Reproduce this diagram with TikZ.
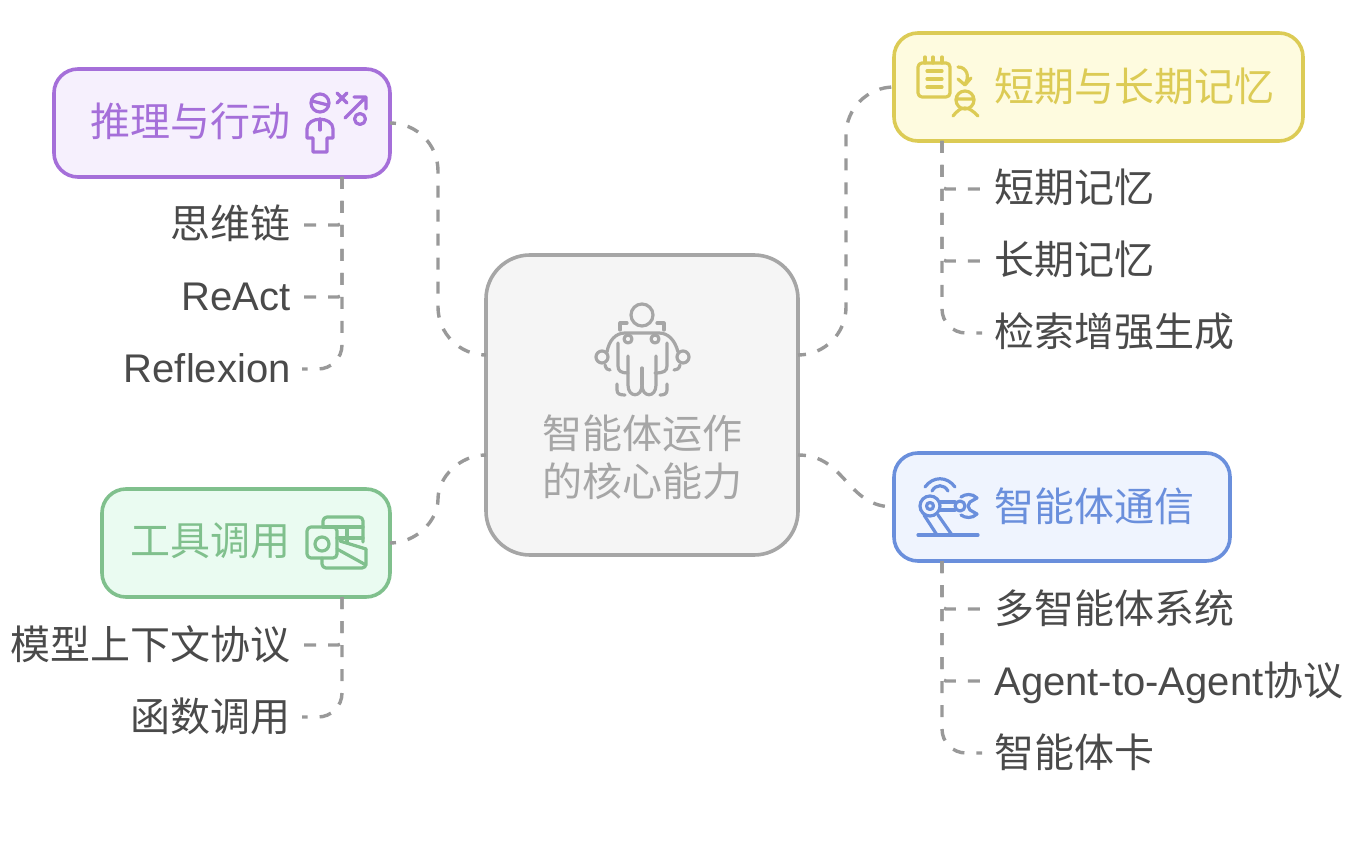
\documentclass[tikz,border=0pt]{standalone}
\usepackage{fontspec}
\usepackage{xcolor}
\setmainfont{Noto Sans CJK SC}
\newfontfamily\latinfont{Liberation Sans}
\definecolor{hubline}{HTML}{A6A6A6}
\definecolor{hubfill}{HTML}{F5F5F5}
\definecolor{purpleline}{HTML}{A56FD9}
\definecolor{purplefill}{HTML}{F6F0FD}
\definecolor{yellowline}{HTML}{DCCB55}
\definecolor{yellowfill}{HTML}{FEFBDF}
\definecolor{blueline}{HTML}{6A8FDC}
\definecolor{bluefill}{HTML}{EFF4FE}
\definecolor{greenline}{HTML}{80C08D}
\definecolor{greenfill}{HTML}{EAFBF1}
\definecolor{linkgrey}{HTML}{999999}
\definecolor{leafgrey}{HTML}{4A4A4A}
\tikzset{
    box/.style={draw,line width=1.8pt,rounded corners=12pt,inner sep=0pt,outer sep=0pt},
    title/.style={inner sep=0pt,font=\fontsize{20}{24}\selectfont},
    link/.style={draw=linkgrey,line width=1.7pt,dash pattern=on 6pt off 6pt},
    leafr/.style={anchor=west,inner sep=6pt,text height=17pt,text depth=3pt,text=leafgrey,font=\fontsize{20}{24}\selectfont},
    leafl/.style={anchor=east,inner sep=5.5pt,text height=17pt,text depth=3pt,text=leafgrey,font=\fontsize{20}{24}\selectfont},
    icon/.style={line width=1.6pt,line cap=round,line join=round},
}
\begin{document}
\begin{tikzpicture}[x=0.5pt,y=-0.5pt]
            \useasboundingbox (0,0) rectangle (1354,844);

            \node (hub) at (642,405) [box,draw=hubline,fill=hubfill,rounded corners=22pt,minimum width=156pt,minimum height=150pt] {};
            \node (reason) at (222,123) [box,draw=purpleline,fill=purplefill,minimum width=168pt,minimum height=54pt] {};
            \node (memory) at (1098.5,87) [box,draw=yellowline,fill=yellowfill,minimum width=204.5pt,minimum height=54pt] {};
            \node (comm) at (1062,507) [box,draw=blueline,fill=bluefill,minimum width=168pt,minimum height=54pt] {};
            \node (tools) at (246,543) [box,draw=greenline,fill=greenfill,minimum width=144pt,minimum height=54pt] {};

            \node (hubtext) at (642,457) [title,text=hubline,align=center] {智能体运作\\的核心能力};
            \node (reasontext) at (190,121) [title,text=purpleline] {推理与行动};
            \node (memorytext) at (1134,86) [title,text=yellowline] {短期与长期记忆};
            \node (commtext) at (1094,506) [title,text=blueline] {智能体通信};
            \node (toolstext) at (210,541) [title,text=greenline] {工具调用};

            \node (chain) at (302,225) [leafl] {思维链};
            \node (react) at (302,297) [leafl] {\latinfont ReAct};
            \node (reflexion) at (302,369) [leafl] {\latinfont Reflexion};
            \node (mcp) at (302,645) [leafl] {模型上下文协议};
            \node (func) at (302,717) [leafl] {函数调用};
            \node (short) at (982,189) [leafr] {短期记忆};
            \node (long) at (982,261) [leafr] {长期记忆};
            \node (rag) at (982,333) [leafr] {检索增强生成};
            \node (multi) at (982,609) [leafr] {多智能体系统};
            \node (atoa) at (982,681) [leafr] {{\latinfont Agent-to-Agent}协议};
            \node (card) at (982,753) [leafr] {智能体卡};

            \coordinate (hubnw) at (486,355);
            \coordinate (hubsw) at (486,455);
            \coordinate (hubne) at (798,355);
            \coordinate (hubse) at (798,455);
            \coordinate (reasonfoot) at (342,177);
            \coordinate (toolsfoot) at (342,597);
            \coordinate (memoryfoot) at (942,141);
            \coordinate (commfoot) at (942,561);

            \draw[link,dash phase=3pt,rounded corners=24pt] (reason.east) -| (438,239) |- (hubnw);
            \draw[link,dash phase=3pt] (tools.east) .. controls (416,543) and (438,521) .. (438,499) .. controls (438,477) and (460,455) .. (hubsw);
            \draw[link,dash phase=2pt,rounded corners=24pt] (hubne) -| (846,221) |- (memory.west);
            \draw[link,dash phase=2pt] (hubse) .. controls (846,455) and (846,507) .. (comm.west);

            \draw[link,rounded corners=2pt] (reasonfoot) |- (chain.east);
            \draw[link,rounded corners=2pt] (reasonfoot) |- (react.east);
            \draw[link,rounded corners=12pt] (reasonfoot) |- (reflexion.east);
            \draw[link,rounded corners=2pt] (toolsfoot) |- (mcp.east);
            \draw[link,rounded corners=12pt] (toolsfoot) |- (func.east);
            \draw[link,rounded corners=2pt] (memoryfoot) |- (short.west);
            \draw[link,rounded corners=2pt] (memoryfoot) |- (long.west);
            \draw[link,rounded corners=12pt] (memoryfoot) |- (rag.west);
            \draw[link,rounded corners=2pt] (commfoot) |- (multi.west);
            \draw[link,rounded corners=2pt] (commfoot) |- (atoa.west);
            \draw[link,rounded corners=12pt] (commfoot) |- (card.west);

            \begin{scope}[icon,draw=hubline]
                \draw (642,315) circle (11);
                \draw (620,330) -- (620,323) -- (627,323) (657,323) -- (664,323) -- (664,330);
                \draw (607,352) .. controls (609,340) and (616,333) .. (625,333) -- (659,333) .. controls (668,333) and (675,340) .. (678,352);
                \draw (602,357) circle (6) (683,357) circle (6);
                \draw (605,365) .. controls (606,369) and (608,370) .. (610,370) (680,365) .. controls (679,369) and (677,370) .. (674,370);
                \draw[fill=hubfill] (628,339) circle (4) (655,339) circle (4);
                \draw (618,343) -- (618,366) .. controls (618,371) and (621,373) .. (628,373);
                \draw (667,343) -- (667,366) .. controls (667,371) and (664,373) .. (655,373);
                \draw (628,356) -- (628,385) .. controls (628,398) and (642,398) .. (642,385) .. controls (642,398) and (656,398) .. (656,385) -- (656,356);
                \draw (642,385) -- (642,368);
                \draw (617,384) -- (617,390) .. controls (617,394) and (620,395) .. (625,395);
                \draw (667,384) -- (667,390) .. controls (667,394) and (664,395) .. (660,395);
            \end{scope}

            \begin{scope}[icon,draw=purpleline]
                \draw (320,103) circle (9) (312,101) -- (328,105);
                \draw (320,119) -- (320,130);
                \draw (307,138) -- (307,129) .. controls (307,116) and (333,116) .. (333,129) -- (333,138) -- (327,138) -- (327,152) -- (313,152) -- (313,138) -- cycle;
                \draw (337,93) -- (347,103) (347,93) -- (337,103);
                \draw (345,118) -- (365,98) (354,97) -- (366,97) -- (366,109);
                \draw (360,119) circle (5.5);
            \end{scope}

            \begin{scope}[icon,draw=yellowline]
                \draw[rounded corners=2pt] (918,63) rectangle (950,97);
                \draw (925,57) -- (925,63) (933,57) -- (933,63) (942,57) -- (942,63);
                \draw (927,71) -- (942,71) (927,79) -- (942,79) (927,87) -- (942,87);
                \draw (958,67) .. controls (967,67) and (970,77) .. (965,84) (958,79) -- (965,85) -- (971,78);
                \draw (965,100) circle (9) (956,99) -- (974,99);
                \draw (953,116) .. controls (958,110) and (961,108) .. (965,108) .. controls (969,108) and (973,111) .. (978,116);
            \end{scope}

            \begin{scope}[icon,draw=blueline]
                \draw (918,535) -- (978,535);
                \draw (930,506) circle (10) (930,506) circle (3.5);
                \draw (924,515) -- (937,535) (938,515) -- (952,535);
                \draw (940,502) -- (955,502) (940,510) -- (955,510);
                \draw (960,506) circle (5);
                \draw (977,498) .. controls (972,493) and (965,494) .. (961,497);
                \draw (977,514) .. controls (972,519) and (965,518) .. (961,515);
                \draw (977,498) -- (970,502) -- (968,506) -- (970,510) -- (977,514);
                \draw (925,487) .. controls (933,476) and (947,476) .. (955,487);
                \draw (932,491) .. controls (936,484) and (944,484) .. (948,491);
            \end{scope}

            \begin{scope}[icon,draw=greenline]
                \draw[rounded corners=2pt] (307,527) rectangle (337,558);
                \draw (322,544) circle (7);
                \draw[rounded corners=2pt] (323,527) -- (323,517) -- (363,517) -- (363,542);
                \draw (323,527) -- (363,527) (347,527) -- (347,542) (337,538) -- (363,538);
                \draw[rounded corners=2pt] (322,558) -- (322,568) -- (366,568) -- (366,549);
                \draw (337,549) -- (366,565) (340,541) -- (366,549);
            \end{scope}

        \end{tikzpicture}
\end{document}
